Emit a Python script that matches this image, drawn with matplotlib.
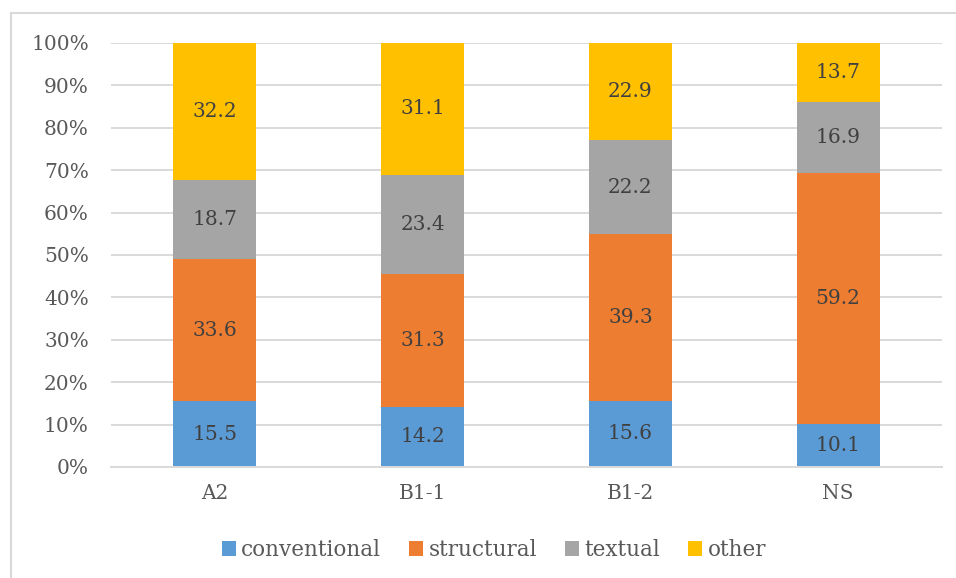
import matplotlib.pyplot as plt
from matplotlib.lines import Line2D
from matplotlib.ticker import PercentFormatter
import numpy as np

plt.rcParams['font.family'] = ['DejaVu Serif']

groups = ['A2', 'B1-1', 'B1-2', 'NS']
conventional = [15.5, 14.2, 15.6, 10.1]
structural = [33.6, 31.3, 39.3, 59.2]
textual = [18.7, 23.4, 22.2, 16.9]
other = [32.2, 31.1, 22.9, 13.7]

series = [('conventional', conventional, '#5B9BD5'),
          ('structural', structural, '#ED7D31'),
          ('textual', textual, '#A5A5A5'),
          ('other', other, '#FFC000')]

fig = plt.figure(figsize=(9.56, 5.78), dpi=100)
ax = fig.add_axes([111/956, 1 - 467/578, (942 - 111)/956, (467 - 43)/578])

x = np.arange(len(groups))
bottom = np.zeros(len(groups))
for name, vals, col in series:
    vals = np.array(vals)
    ax.bar(x, vals, 0.4, bottom=bottom, color=col, label=name, zorder=2)
    for xi, b, v in zip(x, bottom, vals):
        ax.text(xi, b + v / 2, f'{v:.1f}', ha='center', va='center',
                fontsize=14.5, color='#404040', zorder=3)
    bottom += vals

ax.set_xlim(-0.5, len(groups) - 0.5)
ax.set_ylim(0, 100)
ax.set_yticks(np.arange(0, 101, 10))
ax.yaxis.set_major_formatter(PercentFormatter(100, decimals=0))
ax.set_xticks(x)
ax.set_xticklabels(groups)
ax.grid(axis='y', color='#D9D9D9', linewidth=1.4, zorder=0)
for s in ax.spines.values():
    s.set_visible(False)
ax.spines['bottom'].set_visible(True)
ax.spines['bottom'].set_color('#D9D9D9')
ax.spines['bottom'].set_linewidth(1.4)
ax.tick_params(length=0, labelsize=14.5, colors='#595959')
ax.tick_params(axis='y', pad=16)
ax.tick_params(axis='x', pad=12)

leg = fig.legend(loc='center', bbox_to_anchor=(494/956, 1 - 550/578), ncol=4,
                 frameon=False, fontsize=15.5, handlelength=0.65, handleheight=0.65,
                 handletextpad=0.25, columnspacing=1.3)
for t in leg.get_texts():
    t.set_color('#595959')

# outer chart frame (only left and top edges visible in the crop)
fx = 11/956
fy = 1 - 13/578
fig.add_artist(Line2D([fx, fx], [0, fy], color='#D9D9D9', linewidth=1.5))
fig.add_artist(Line2D([fx, 1], [fy, fy], color='#D9D9D9', linewidth=1.5))

fig.savefig('out.png', dpi=100)
